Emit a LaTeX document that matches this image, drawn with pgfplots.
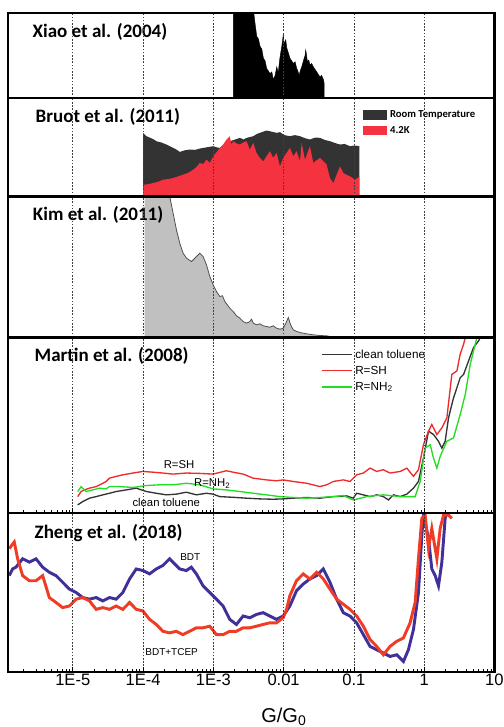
\documentclass[border=0pt]{standalone}
\usepackage{pgfplots}
\pgfplotsset{compat=1.18}
\usepackage{pgfplotstable}
\usepackage{fontspec}
\setmainfont{Liberation Sans}
\newfontfamily\carlito{Carlito}

\definecolor{rtgray}{HTML}{333333}
\definecolor{kred}{HTML}{F5323F}
\definecolor{kimfill}{HTML}{C0C0C0}
\definecolor{kimline}{HTML}{505050}
\definecolor{mblack}{HTML}{333333}
\definecolor{mred}{HTML}{EE2A2A}
\definecolor{mgreen}{HTML}{22DD22}
\definecolor{zblue}{HTML}{40309A}
\definecolor{zred}{HTML}{F03C24}

% x is log10(G/G0), y in arbitrary counts (0-100 of the panel)
\pgfplotstableread{
lx y
-2.714 105
-2.429 105
-2.418 96
-2.406 88
-2.382 73
-2.358 70
-2.334 61
-2.310 58
-2.287 47
-2.263 44
-2.240 35
-2.192 29
-2.168 31
-2.145 22
-2.121 27
-2.097 37
-2.085 33
-2.074 31
-2.062 41
-2.050 49
-2.026 61
-2.015 68
-2.003 76
-1.995 64
-1.988 65
-1.969 69
-1.957 60
-1.946 57
-1.927 52
-1.908 47
-1.884 44
-1.860 41
-1.836 43
-1.813 35
-1.796 32
-1.780 27
-1.760 33
-1.742 37
-1.725 42
-1.708 47
-1.695 50
-1.685 57
-1.675 52
-1.661 43
-1.642 45
-1.623 39
-1.600 41
-1.576 37
-1.552 34
-1.528 31
-1.505 28
-1.481 25
-1.460 27
-1.442 24
-1.430 21
-1.424 18
}\xiao

\pgfplotstableread{
lx y
-4.000 64.8
-3.976 63.0
-3.952 61.4
-3.905 60.0
-3.857 58.5
-3.810 56.3
-3.740 55.0
-3.667 52.9
-3.600 50.5
-3.525 47.8
-3.477 45.4
-3.410 47.0
-3.335 47.8
-3.260 47.5
-3.192 48.8
-3.100 50.0
-3.002 51.2
-2.950 50.0
-2.907 49.5
-2.840 53.0
-2.765 56.3
-2.690 58.0
-2.622 59.7
-2.570 58.0
-2.527 59.7
-2.480 60.5
-2.432 61.4
-2.385 63.5
-2.337 64.8
-2.290 66.0
-2.242 67.2
-2.170 66.0
-2.100 64.8
-2.050 65.5
-2.005 63.1
-1.957 62.0
-1.910 61.4
-1.840 62.5
-1.767 61.4
-1.700 59.5
-1.625 58.0
-1.550 60.0
-1.482 59.7
-1.410 57.5
-1.340 56.3
-1.270 54.5
-1.197 52.9
-1.130 53.5
-1.055 51.2
-0.990 52.0
-0.922 51.2
}\bruotrt

\pgfplotstableread{
lx y
-4.000 11.9
-3.930 12.5
-3.857 13.7
-3.785 15.0
-3.715 17.1
-3.640 17.8
-3.572 18.8
-3.500 20.5
-3.430 22.2
-3.360 24.0
-3.287 27.3
-3.240 30.0
-3.192 34.1
-3.145 33.0
-3.097 37.5
-3.050 34.1
-3.002 41.0
-2.955 45.0
-2.907 49.5
-2.860 52.9
-2.812 58.0
-2.765 61.4
-2.741 52.9
-2.717 56.3
-2.670 54.0
-2.622 52.9
-2.575 55.0
-2.527 56.3
-2.480 47.8
-2.432 54.6
-2.385 44.4
-2.337 39.2
-2.290 35.8
-2.242 41.0
-2.195 46.1
-2.147 39.2
-2.100 44.4
-2.052 30.7
-2.005 39.2
-1.957 44.4
-1.910 49.5
-1.862 41.0
-1.815 46.1
-1.767 35.8
-1.743 54.6
-1.696 37.5
-1.625 51.2
-1.577 34.1
-1.530 37.0
-1.482 39.2
-1.435 36.0
-1.387 32.4
-1.340 18.8
-1.292 13.7
-1.245 22.2
-1.197 30.7
-1.150 23.9
-1.100 22.0
-1.055 20.5
-0.983 17.1
-0.950 18.8
-0.922 20.5
}\bruotlow

\pgfplotstableread{
lx y
-3.976 150
-3.667 110
-3.620 100
-3.572 88.2
-3.525 76.4
-3.477 66.9
-3.430 59.8
-3.382 56.3
-3.311 53.9
-3.240 57.4
-3.192 59.8
-3.145 57.4
-3.097 51.5
-3.050 43.3
-3.002 37.4
-2.955 32.6
-2.907 29.1
-2.869 29.6
-2.836 25.5
-2.765 20.8
-2.717 18.4
-2.670 15.4
-2.622 13.7
-2.575 11.3
-2.527 10.2
-2.480 11.3
-2.456 13.0
-2.432 10.2
-2.385 9.0
-2.337 9.7
-2.290 8.3
-2.242 7.8
-2.195 7.3
-2.147 8.3
-2.100 6.6
-2.052 5.9
-2.005 6.6
-1.967 10.2
-1.933 14.2
-1.900 9.0
-1.862 5.4
-1.815 4.3
-1.767 3.5
-1.672 2.6
-1.577 1.9
-1.482 1.4
-1.387 1.2
-1.340 0.7
}\kim

\pgfplotstableread{
lx y
-4.929 4.8
-4.857 6.7
-4.762 8.6
-4.667 9.5
-4.572 10.5
-4.477 11.4
-4.382 12.4
-4.240 13.3
-4.097 14.3
-3.954 12.4
-3.812 11.4
-3.669 10.5
-3.527 10.9
-3.384 12.0
-3.241 10.5
-3.099 11.4
-3.004 10.9
-2.909 9.5
-2.719 9.1
-2.529 8.6
-2.338 8.2
-2.148 8.0
-2.006 8.2
-1.863 8.6
-1.673 9.0
-1.483 8.6
-1.293 9.5
-1.103 9.9
-1.008 8.6
-0.960 11.4
-0.865 10.5
-0.770 9.5
-0.675 10.5
-0.580 9.5
-0.509 7.6
-0.437 10.5
-0.342 9.5
-0.247 10.9
-0.152 14.3
-0.081 18.1
-0.010 31.4
0.062 46.7
0.133 44.8
0.204 41.0
0.252 37.1
0.299 41.0
0.347 54.3
0.418 65.7
0.513 77.1
0.561 79.0
0.632 86.7
0.703 94.3
0.775 98.1
0.798 100
0.893 110
}\martinclean

\pgfplotstableread{
lx y
-4.929 9.5
-4.881 12.4
-4.834 13.3
-4.762 14.3
-4.667 15.2
-4.572 17.1
-4.525 18.1
-4.477 20.0
-4.382 21.0
-4.287 21.9
-4.144 22.9
-4.002 23.8
-3.859 23.4
-3.717 22.9
-3.574 22.3
-3.384 22.9
-3.194 22.7
-3.004 22.3
-2.814 24.2
-2.719 23.4
-2.576 22.3
-2.433 20.0
-2.243 19.0
-2.101 18.5
-2.006 19.0
-1.863 18.1
-1.673 17.1
-1.483 15.2
-1.388 16.2
-1.293 18.1
-1.150 19.0
-1.055 18.1
-0.960 21.9
-0.865 22.9
-0.770 25.7
-0.675 23.8
-0.580 24.8
-0.485 22.9
-0.342 23.8
-0.247 25.7
-0.152 21.0
-0.081 24.8
-0.010 39.0
0.062 46.7
0.109 50.5
0.181 44.8
0.252 48.6
0.323 54.3
0.394 79.0
0.466 81.0
0.513 90.5
0.561 96.2
0.585 100
0.656 110
}\martinsh

\pgfplotstableread{
lx y
-4.929 12.4
-4.881 15.2
-4.810 12.4
-4.715 13.3
-4.620 14.3
-4.525 13.9
-4.477 15.2
-4.335 15.2
-4.144 14.7
-3.954 15.8
-3.764 16.2
-3.574 16.2
-3.384 17.1
-3.194 16.2
-3.004 13.9
-2.814 13.3
-2.624 12.4
-2.433 11.4
-2.243 10.5
-2.053 9.5
-1.863 9.0
-1.673 8.6
-1.483 9.0
-1.293 9.5
-1.150 10.1
-1.008 7.6
-0.817 9.5
-0.580 10.5
-0.342 9.5
-0.128 9.5
-0.057 18.1
0.014 37.1
0.086 39.0
0.133 31.4
0.181 25.7
0.228 32.4
0.323 41.0
0.418 42.9
0.513 56.2
0.585 67.6
0.656 84.8
0.703 92.4
0.751 100
0.822 110
}\martinnh

\pgfplotstableread{
lx y
-5.903 60.8
-5.856 65.0
-5.808 66.1
-5.713 71.4
-5.618 69.3
-5.523 71.4
-5.428 66.1
-5.333 62.9
-5.238 60.8
-5.143 56.6
-5.048 52.3
-4.952 50.2
-4.857 47.0
-4.762 46.0
-4.667 47.0
-4.572 44.9
-4.477 47.0
-4.382 46.0
-4.287 50.2
-4.192 58.7
-4.097 65.0
-4.002 64.0
-3.907 61.9
-3.812 65.0
-3.717 67.2
-3.622 71.4
-3.550 68.2
-3.479 65.0
-3.384 64.0
-3.313 66.1
-3.241 61.9
-3.146 54.4
-3.051 50.2
-2.956 46.0
-2.861 41.7
-2.766 33.3
-2.671 30.1
-2.576 35.4
-2.481 34.3
-2.386 36.4
-2.291 37.5
-2.196 35.4
-2.101 33.3
-2.006 35.4
-1.911 41.7
-1.816 51.3
-1.721 55.5
-1.626 58.7
-1.530 60.8
-1.435 65.0
-1.388 60.8
-1.340 56.6
-1.245 46.0
-1.150 37.5
-1.055 35.4
-0.960 31.1
-0.865 23.7
-0.770 16.3
-0.675 14.2
-0.580 12.1
-0.485 10.0
-0.390 11.0
-0.295 6.8
-0.224 14.2
-0.152 26.9
-0.081 50.2
-0.033 86.2
-0.010 98.9
0.062 84.1
0.109 65.0
0.157 60.8
0.204 54.4
0.252 69.3
0.299 96.8
0.347 110
}\zhengbdt

\pgfplotstableread{
lx y
-5.903 77.8
-5.832 82.0
-5.784 71.4
-5.713 60.8
-5.618 57.6
-5.523 57.6
-5.428 60.8
-5.333 47.0
-5.238 43.9
-5.143 40.7
-5.048 41.7
-4.952 46.0
-4.857 47.0
-4.762 44.9
-4.667 39.6
-4.572 40.7
-4.477 39.6
-4.382 41.7
-4.287 39.6
-4.192 43.9
-4.097 39.6
-4.002 38.6
-3.907 33.3
-3.812 30.1
-3.717 25.8
-3.622 24.8
-3.527 25.8
-3.432 23.7
-3.337 25.8
-3.241 28.0
-3.146 28.0
-3.051 29.0
-2.956 23.7
-2.861 23.7
-2.766 25.8
-2.671 25.8
-2.576 28.0
-2.481 28.0
-2.386 29.0
-2.291 30.1
-2.196 31.1
-2.101 31.1
-2.006 34.3
-1.958 39.6
-1.911 48.1
-1.816 57.6
-1.721 61.9
-1.626 58.7
-1.530 62.9
-1.435 58.7
-1.340 52.3
-1.245 46.0
-1.150 42.8
-1.055 39.6
-0.960 35.4
-0.865 29.0
-0.770 20.6
-0.675 16.3
-0.580 11.0
-0.485 16.3
-0.390 19.5
-0.295 21.6
-0.200 31.1
-0.128 43.9
-0.081 71.4
-0.033 96.8
0.014 98.9
0.062 77.8
0.109 90.5
0.181 71.4
0.228 90.5
0.276 98.9
0.347 98.9
0.394 96.8
}\zhengtcep

\pgfplotsset{
  panel/.style={
    scale only axis, width=364.6pt,
    xmin=-5.917, xmax=1, ymin=0, ymax=100,
    ytick=\empty, xtick={-5,...,1}, xticklabels={},
    xmajorgrids,
    major grid style={black!75, line width=0.4pt, dash pattern=on 1.2pt off 1.2pt},
    axis line style={line width=1.6pt},
    major tick length=0pt, minor tick length=0pt,
    axis on top,
  },
  minors/.style={
    minor xtick={-5.699,-5.523,-5.398,-5.301,-5.222,-5.155,-5.097,-5.046,
      -4.699,-4.523,-4.398,-4.301,-4.222,-4.155,-4.097,-4.046,
      -3.699,-3.523,-3.398,-3.301,-3.222,-3.155,-3.097,-3.046,
      -2.699,-2.523,-2.398,-2.301,-2.222,-2.155,-2.097,-2.046,
      -1.699,-1.523,-1.398,-1.301,-1.222,-1.155,-1.097,-1.046,
      -0.699,-0.523,-0.398,-0.301,-0.222,-0.155,-0.097,-0.046,
      0.301,0.477,0.602,0.699,0.778,0.845,0.903,0.954},
    xtick pos=left, tick align=inside,
    major tick length=4pt, minor tick length=2.5pt,
    tick style={black, line width=0.5pt},
  },
}
\tikzset{
  ttl/.style={anchor=west, font=\carlito\bfseries\fontsize{14.25}{16}\selectfont},
  ann/.style={font=\fontsize{8.5}{10}\selectfont, inner sep=0pt},
  leg/.style={anchor=west, font=\fontsize{8.8}{10}\selectfont, inner sep=0pt},
}

\begin{document}
\begin{tikzpicture}
\useasboundingbox (-6.225pt,9.975pt) rectangle (371.025pt,-535.275pt);

% Xiao et al. (2004)
\begin{axis}[panel, name=p1, at={(0pt,0pt)}, anchor=north west, height=63.75pt]
\addplot[fill=black, draw=black, line width=0.3pt] table[x=lx, y=y] {\xiao} \closedcycle;
\node[ttl] at (rel axis cs:0.0405,0.776) {Xiao et al. (2004)};
\end{axis}

% Bruot et al. (2011)
\begin{axis}[panel, name=p2, at={(p1.south west)}, anchor=north west, height=73.65pt,
  legend style={at={(rel axis cs:0.730,0.905)}, anchor=north west, draw=none, fill=none,
    inner sep=0pt, row sep=1.2pt, font=\carlito\bfseries\fontsize{8}{9}\selectfont},
  legend cell align=left,
  legend image code/.code={\fill[#1] (0pt,-3.4pt) rectangle (18pt,3.4pt);}]
\addplot[fill=rtgray, draw=none] table[x=lx, y=y] {\bruotrt} \closedcycle;
\addplot[fill=kred, draw=none] table[x=lx, y=y] {\bruotlow} \closedcycle;
\legend{Room Temperature, 4.2K}
\node[ttl] at (rel axis cs:0.0467,0.812) {Bruot et al. (2011)};
\end{axis}

% Kim et al. (2011)
\begin{axis}[panel, name=p3, at={(p2.south west)}, anchor=north west, height=105.75pt]
\addplot[fill=kimfill, draw=none] table[x=lx, y=y] {\kim} \closedcycle;
\addplot[kimline, line width=0.6pt] table[x=lx, y=y] {\kim};
\node[ttl] at (rel axis cs:0.041,0.87) {Kim et al. (2011)};
\end{axis}

% Martin et al. (2008)
\begin{axis}[panel, minors, name=p4, at={(p3.south west)}, anchor=north west, height=131.85pt]
\addplot[mblack, line width=1pt] table[x=lx, y=y] {\martinclean};
\addplot[mred, line width=1pt] table[x=lx, y=y] {\martinsh};
\addplot[mgreen, line width=1pt] table[x=lx, y=y] {\martinnh};
% legend
\draw[mblack, line width=1.4pt] (rel axis cs:0.6453,0.903) -- (rel axis cs:0.7071,0.903);
\node[leg] at (rel axis cs:0.7132,0.903) {clean toluene};
\draw[mred, line width=1.4pt] (rel axis cs:0.6453,0.812) -- (rel axis cs:0.7071,0.812);
\node[leg] at (rel axis cs:0.7132,0.812) {R=SH};
\draw[mgreen, line width=1.4pt] (rel axis cs:0.6453,0.718) -- (rel axis cs:0.7071,0.718);
\node[leg] at (rel axis cs:0.7132,0.718) {R=NH\textsubscript{2}};
\node[ttl] at (rel axis cs:0.0446,0.895) {Martin et al. (2008)};
\node[ann] at (axis cs:-3.487,27.6) {R=SH};
\node[ann] at (axis cs:-3.015,16.7) {R=NH\textsubscript{2}};
\node[ann] at (axis cs:-3.67,6.1) {clean toluene};
\end{axis}

% Zheng et al. (2018)
\begin{axis}[panel, minors, name=p5, at={(p4.south west)}, anchor=north west, height=119.25pt,
  xticklabels={1E-5,1E-4,1E-3,0.01,0.1,1,10},
  xticklabel style={font=\fontsize{12.4}{14}\selectfont, yshift=2.5pt},
  xlabel={G/G\textsubscript{0}},
  xlabel style={at={(rel axis cs:0.567,0)}, anchor=center, yshift=-33.5pt, font=\fontsize{15}{17}\selectfont}]
\addplot[zblue, line width=2.2pt] table[x=lx, y=y] {\zhengbdt};
\addplot[zred, line width=2.2pt] table[x=lx, y=y] {\zhengtcep};
\node[ttl] at (rel axis cs:0.0446,0.874) {Zheng et al. (2018)};
\node[ann, font=\fontsize{7.5}{9}\selectfont] at (axis cs:-3.327,72.7) {BDT};
\node[ann, font=\fontsize{7.5}{9}\selectfont] at (axis cs:-3.593,13.0) {BDT+TCEP};
\end{axis}
\end{tikzpicture}
\end{document}
